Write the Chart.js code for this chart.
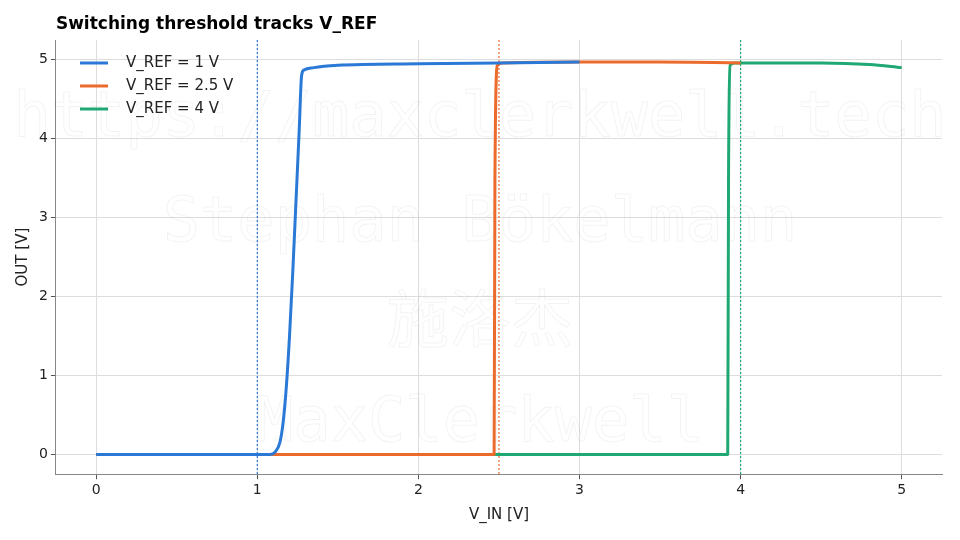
<!DOCTYPE html>
<html><head><meta charset="utf-8">
<script src="https://cdn.jsdelivr.net/npm/chart.js@4"></script>
<style>body{margin:0;background:#fff}#w{position:relative;width:960px;height:540px}</style>
</head><body><div id="w"><canvas id="c" width="960" height="540"></canvas></div>
<script>
const titleText = 'Switching threshold tracks V_REF';
const seriesNames = ['V_REF = 1 V', 'V_REF = 2.5 V', 'V_REF = 4 V'];
const seriesColors = ['#2a79d6', '#ec6a2c', '#1fa874'];
const vrefs = [1, 2.5, 4];
const xTicks = [0, 1, 2, 3, 4, 5];
const yTicks = [0, 1, 2, 3, 4, 5];
const blueX = [0, 1.0, 1.08, 1.11, 1.14, 1.16, 1.18, 1.2, 1.22, 1.24, 1.26, 1.275, 1.29, 1.35, 1.5, 2.0, 2.5, 3.0];
const blueY = [0, 0, 0, 0.03, 0.15, 0.4, 0.85, 1.5, 2.3, 3.2, 4.1, 4.8, 4.87, 4.9, 4.93, 4.95, 4.96, 4.97];
const orangeX = [0, 2.47, 2.475, 2.49, 2.52, 3.0, 3.5, 4.0];
const orangeY = [0, 0, 3.5, 4.93, 4.96, 4.97, 4.97, 4.96];
const greenX = [0, 3.92, 3.925, 3.935, 3.96, 4.2, 4.5, 4.8, 5.0];
const greenY = [0, 0, 3.5, 4.93, 4.96, 4.96, 4.96, 4.94, 4.9];

const pts = (xs, ys) => xs.map((x, i) => ({x, y: ys[i]}));
const wm = {
  id: 'wm',
  beforeDatasetsDraw(chart) {
    const c = chart.ctx; c.save();
    c.strokeStyle = 'rgba(0,0,0,0.05)'; c.lineWidth = 1; c.textAlign = 'center'; c.textBaseline = 'middle';
    c.font = '62px "DejaVu Sans Mono"';
    c.strokeText('https://maxclerkwell.tech', 480, 120);
    c.strokeText('Stephan Bökelmann', 480, 225);
    c.font = '62px "Noto Sans CJK SC"';
    c.strokeText('施洛杰', 480, 318);
    c.font = '62px "DejaVu Sans Mono"';
    c.strokeText('MaxClerkwell', 480, 425);
    c.restore();
  }
};
const deco = {
  id: 'deco',
  beforeDatasetsDraw(chart) {
    const c = chart.ctx, xs = chart.scales.x, a = chart.chartArea;
    c.save(); c.lineWidth = 1.2; c.setLineDash([2, 2]);
    vrefs.forEach((v, i) => {
      const px = xs.getPixelForValue(v);
      c.strokeStyle = seriesColors[i];
      c.beginPath(); c.moveTo(px, a.top); c.lineTo(px, a.bottom); c.stroke();
    });
    c.restore();
  },
  afterDraw(chart) {
    const c = chart.ctx, a = chart.chartArea;
    c.save();
    c.fillStyle = '#000'; c.font = 'bold 17px "DejaVu Sans"'; c.textBaseline = 'middle'; c.textAlign = 'left';
    c.fillText(titleText, a.left, 25);
    c.font = '15px "DejaVu Sans"'; c.fillStyle = '#222';
    seriesNames.forEach((n, i) => {
      const y = 63 + i * 23;
      c.strokeStyle = seriesColors[i]; c.lineWidth = 3;
      c.beginPath(); c.moveTo(80, y); c.lineTo(108, y); c.stroke();
      c.fillText(n, 126, y);
    });
    c.restore();
  }
};
const data = [pts(blueX, blueY), pts(orangeX, orangeY), pts(greenX, greenY)];
new Chart(document.getElementById('c'), {
  type: 'line',
  data: { datasets: data.map((d, i) => ({
    label: seriesNames[i], data: d, borderColor: seriesColors[i], backgroundColor: seriesColors[i],
    borderWidth: 3, pointRadius: 0, cubicInterpolationMode: 'monotone', borderJoinStyle: 'round', fill: false
  })) },
  options: {
    responsive: false, animation: false,
    layout: { padding: { left: 10, right: 18, top: 40, bottom: 12 } },
    plugins: { title: { display: false }, legend: { display: false }, tooltip: { enabled: false } },
    scales: {
      x: { type: 'linear', min: -0.25, max: 5.25,
        afterBuildTicks: ax => { ax.ticks = xTicks.map(v => ({value: v})); },
        grid: { color: '#dddddd', tickColor: '#555', tickLength: 5 },
        border: { color: '#888' },
        ticks: { color: '#222', font: { family: 'DejaVu Sans', size: 14 } },
        title: { display: true, text: 'V_IN [V]', color: '#222', font: { family: 'DejaVu Sans', size: 15 } } },
      y: { type: 'linear', min: -0.25, max: 5.25,
        afterBuildTicks: ax => { ax.ticks = yTicks.map(v => ({value: v})); },
        grid: { color: '#dddddd', tickColor: '#555', tickLength: 5 },
        border: { color: '#888' },
        ticks: { color: '#222', font: { family: 'DejaVu Sans', size: 14 } },
        title: { display: true, text: 'OUT [V]', color: '#222', font: { family: 'DejaVu Sans', size: 15 } } }
    }
  },
  plugins: [wm, deco]
});
</script></body></html>
